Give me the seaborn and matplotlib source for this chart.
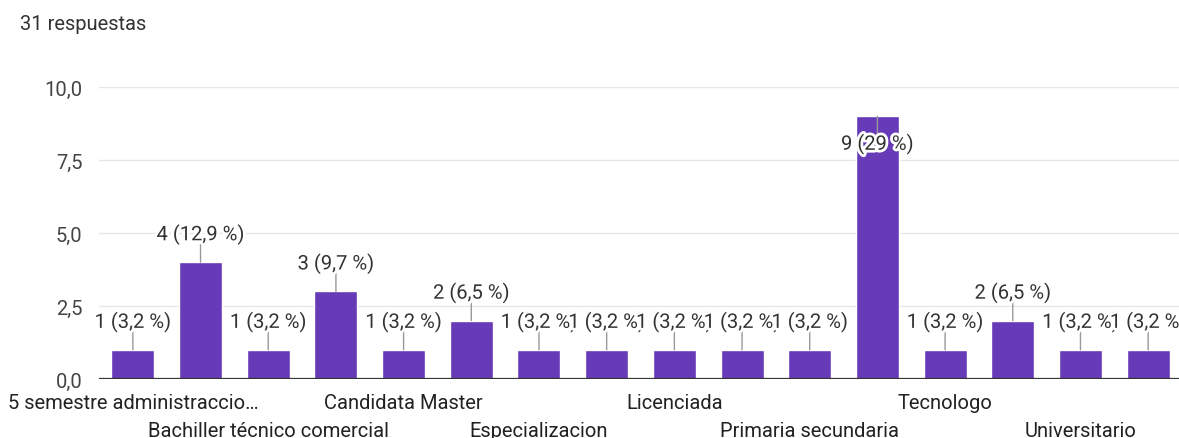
import numpy as np
import pandas as pd
import matplotlib
matplotlib.use("Agg")
import matplotlib.pyplot as plt
import matplotlib.patheffects as pe
import seaborn as sns

# data (only every other category name is visible)
categorias = ["5 semestre administraccio…", "", "Bachiller técnico comercial", "",
              "Candidata Master", "", "Especializacion", "",
              "Licenciada", "", "Primaria secundaria", "",
              "Tecnologo", "", "Universitario", ""]
respuestas = [1, 4, 1, 3, 1, 2, 1, 1, 1, 1, 1, 9, 1, 2, 1, 1]
total = 31
yticks = [0, 2.5, 5, 7.5, 10]

sns.set_theme(style="white")
plt.rcParams['font.family'] = ['Roboto', 'DejaVu Sans']

purple = "#673ab7"
txt = "#333333"
fs = 14.5

df = pd.DataFrame({"pos": np.arange(len(respuestas)), "n": respuestas})

fig = plt.figure(figsize=(11.79, 4.39), dpi=100)
ax = fig.add_axes([99 / 1179, 59 / 439, 1083 / 1179, 292 / 439])

sns.barplot(data=df, x="pos", y="n", color=purple, saturation=1, width=0.635, ax=ax, zorder=2)

ax.set_ylim(0, 10)
ax.set_xlim(-0.5, len(respuestas) - 0.5)
for s in ax.spines.values():
    s.set_visible(False)
for t in yticks[1:]:
    ax.axhline(t, color="#e6e6e6", lw=1, zorder=0)
ax.axhline(0, color="#333333", lw=1.6, zorder=3)

ax.set_yticks(yticks)
ax.set_yticklabels([f"{t:.1f}".replace(".", ",") for t in yticks], fontsize=fs, color="#444444")
ax.tick_params(axis="y", length=0, pad=12)

# two rows of category labels
top_pos = [i for i in range(0, len(categorias), 4)]
bot_pos = [i for i in range(2, len(categorias), 4)]
ax.set_xticks(top_pos)
ax.set_xticklabels([categorias[i] for i in top_pos], fontsize=fs, color="#222222")
ax.set_xticks(bot_pos, minor=True)
ax.set_xticklabels([categorias[i] for i in bot_pos], minor=True, fontsize=fs, color="#222222")
ax.tick_params(axis="x", which="major", length=0, pad=10)
ax.tick_params(axis="x", which="minor", length=0, pad=30)
ax.set_xlabel("")
ax.set_ylabel("")

halo = [pe.withStroke(linewidth=4, foreground="white")]
for i, v in enumerate(respuestas):
    p = v / total * 100
    pct = f"{p:.1f}".replace(".", ",")
    if pct.endswith(",0"):
        pct = pct[:-2]
    label = f"{v} ({pct} %)"
    if v == max(respuestas):
        ax.annotate("", xy=(i, v), xytext=(0, -15), textcoords="offset points",
                    arrowprops=dict(arrowstyle="-", color="#999999", lw=1, shrinkA=0, shrinkB=0),
                    zorder=4, annotation_clip=False)
        ax.annotate(label, xy=(i, v), xytext=(0, -20), textcoords="offset points",
                    ha="center", va="center", fontsize=fs, color=txt, path_effects=halo,
                    zorder=5, annotation_clip=False)
    else:
        ax.annotate("", xy=(i, v), xytext=(0, 13), textcoords="offset points",
                    arrowprops=dict(arrowstyle="-", color="#999999", lw=1, shrinkA=0, shrinkB=0),
                    zorder=4, annotation_clip=False)
        ax.annotate(label, xy=(i, v), xytext=(0, 20), textcoords="offset points",
                    ha="center", va="center", fontsize=fs, color=txt, path_effects=halo,
                    zorder=5, annotation_clip=False)

fig.text(20 / 1179, 1 - 25 / 439, "31 respuestas", fontsize=fs, color=txt, va="center", ha="left")

fig.savefig("out.png", dpi=100)
